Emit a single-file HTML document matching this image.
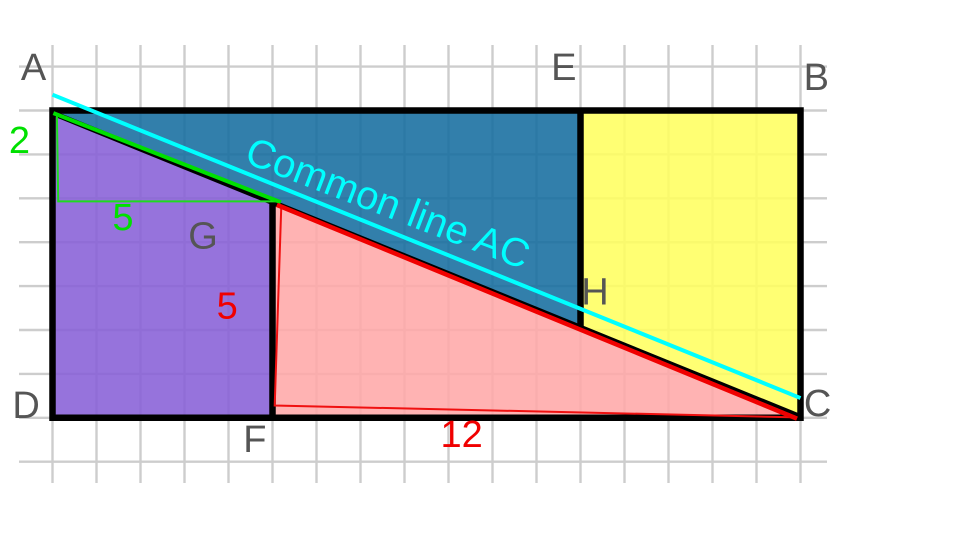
<!DOCTYPE html>
<html>
<head>
<meta charset="utf-8">
<style>
html,body{margin:0;padding:0;background:#fff;width:960px;height:540px;overflow:hidden}
svg{display:block;position:absolute;left:0;top:0}
text{font-family:"Liberation Sans",sans-serif}
</style>
</head>
<body>
<svg id="chart" width="960" height="540" viewBox="0 0 960 540" xmlns="http://www.w3.org/2000/svg">
  <g id="grid"></g>
  <g id="regions"></g>
  <g id="edges"></g>
  <g id="overlays"></g>
  <g id="labels"></g>
</svg>
<script>
// Values in grid units (one square = 1), D is the origin
const gridColumns = [0, 1, 2, 3, 4, 5, 6, 7, 8, 9, 10, 11, 12, 13, 14, 15, 16, 17];
const gridRows = [-1, 0, 1, 2, 3, 4, 5, 6, 7, 8];
const purpleRegion = [[0, 0], [5, 0], [5, 4.9], [0, 6.94]];
const blueRegion = [[0, 7], [12, 7], [12, 2.05], [5, 4.9], [0, 6.94]];
const yellowRegion = [[12, 7], [17, 7], [17, 0], [12, 2.05]];
const pinkRegion = [[5, 0], [5, 4.9], [17, 0]];
const outline = [[0, 0], [17, 0], [17, 7], [0, 7]];
const diagonal = [[0.01, 6.94], [17, 0.02]];
const divider1 = [[5, 0], [5, 4.9]];
const divider2 = [[12, 7], [12, 2.05]];
const commonLine = [[0, 7.36], [17, 0.45]];
const greenHyp = [[0.02, 6.94], [5.19, 4.91]];
const greenTriangle = [[0.1, 6.9], [0.13, 4.93], [5.12, 4.93]];
const redHyp = [[5.1, 4.85], [16.92, -0.02]];
const redTriangle = [[5.2, 4.83], [5.05, 0.28], [16.92, 0.01]];
const pointLabels = [
  ['A', -0.43, 7.69],
  ['B', 17.36, 7.47],
  ['C', 17.39, 0.04],
  ['D', -0.6, 0],
  ['E', 11.62, 7.69],
  ['F', 4.6, -0.78],
  ['G', 3.42, 3.86],
  ['H', 12.33, 2.58]
];
const greenLabels = [['2', -0.75, 6.03], ['5', 1.6, 4.28]];
const redLabels = [['5', 3.97, 2.26], ['12', 9.3, -0.665]];

const NS = 'http://www.w3.org/2000/svg';
const x = u => 52.5 + u * 44;
const y = v => 417.8 - v * 43.9;
const pts = a => a.map(p => x(p[0]) + ',' + y(p[1])).join(' ');
function make(tag, parent, attrs) {
  const el = document.createElementNS(NS, tag);
  for (const k in attrs) el.setAttribute(k, attrs[k]);
  parent.appendChild(el);
  return el;
}
const gridG = document.getElementById('grid');
gridColumns.forEach(c => {
  const el = make('line', gridG, {x1: x(c), x2: x(c), y1: 45, y2: 483, stroke: '#cdcdcd', 'stroke-width': 2.4});
  
  
});
gridRows.forEach(r => {
  const el = make('line', gridG, {x1: 19, x2: 827, y1: y(r), y2: y(r), stroke: '#cdcdcd', 'stroke-width': 2.4});
  
  
});

const regionsG = document.getElementById('regions');
const r1 = make('polygon', regionsG, {points: pts(purpleRegion), fill: '#865ed7', 'fill-opacity': 0.87});


const r2 = make('polygon', regionsG, {points: pts(blueRegion), fill: '#136c9f', 'fill-opacity': 0.87});


const r3 = make('polygon', regionsG, {points: pts(yellowRegion), fill: '#ffff5e', 'fill-opacity': 0.87});


const r4 = make('polygon', regionsG, {points: pts(pinkRegion), fill: '#ffa8a8', 'fill-opacity': 0.87});



const edgesG = document.getElementById('edges');
const e1 = make('polygon', edgesG, {points: pts(outline), fill: 'none', stroke: '#000', 'stroke-width': 6.5});


const e2 = make('polyline', edgesG, {points: pts(diagonal), fill: 'none', stroke: '#000', 'stroke-width': 5.5});


const e3 = make('polyline', edgesG, {points: pts(divider1), fill: 'none', stroke: '#000', 'stroke-width': 6.5});


const e4 = make('polyline', edgesG, {points: pts(divider2), fill: 'none', stroke: '#000', 'stroke-width': 6.5});



const overG = document.getElementById('overlays');
const o1 = make('polygon', overG, {points: pts(greenTriangle), fill: 'none', stroke: '#1edc1e', 'stroke-width': 2});


const o2 = make('polyline', overG, {points: pts(greenHyp), fill: 'none', stroke: '#00e000', 'stroke-width': 4});


const o3 = make('polygon', overG, {points: pts(redTriangle), fill: 'none', stroke: '#f01010', 'stroke-width': 2});


const o4 = make('polyline', overG, {points: pts(redHyp), fill: 'none', stroke: '#f00000', 'stroke-width': 4.5});


const o5 = make('polyline', overG, {points: pts(commonLine), fill: 'none', stroke: '#00ffff', 'stroke-width': 4});



const labelsG = document.getElementById('labels');
pointLabels.forEach(l => {
  const t = make('text', labelsG, {x: x(l[1]), y: y(l[2]), 'font-size': 38, fill: '#555', 'text-anchor': 'middle'});
  t.textContent = l[0];
  
  
});
greenLabels.forEach(l => {
  const t = make('text', labelsG, {x: x(l[1]), y: y(l[2]), 'font-size': 38, fill: '#00e000', 'text-anchor': 'middle'});
  t.textContent = l[0];
  
  
});
redLabels.forEach(l => {
  const t = make('text', labelsG, {x: x(l[1]), y: y(l[2]), 'font-size': 38, fill: '#f00000', 'text-anchor': 'middle'});
  t.textContent = l[0];
  
  
});
const cap = make('text', labelsG, {x: 0, y: 0, 'font-size': 40, fill: '#00ffff', transform: 'translate(243,162) rotate(21)'});
cap.textContent = 'Common line AC';


</script>
</body>
</html>
